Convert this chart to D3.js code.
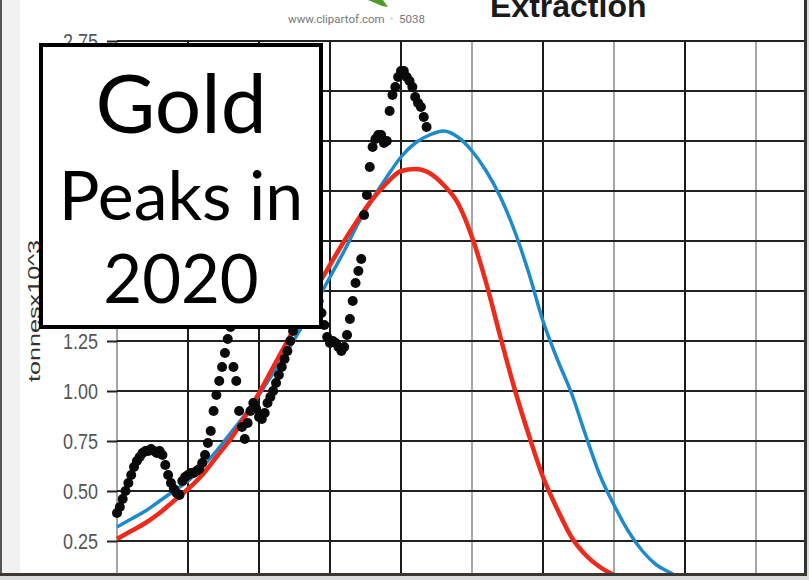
<!DOCTYPE html>
<html>
<head>
<meta charset="utf-8">
<script src="https://cdn.jsdelivr.net/npm/d3@7"></script>
<style>
  body { margin: 0; background: #fff; }
  svg { display: block; }
</style>
</head>
<body>
<div id="chart"></div>
<script>
// gridline positions
const yearTicks = [1900, 1925, 1950, 1975, 2000, 2025, 2050, 2075, 2100, 2125];
const lightYears = [1900, 2025, 2075, 2125];
const valueTicks = [0.25, 0.5, 0.75, 1.0, 1.25, 1.5, 1.75, 2.0, 2.25, 2.5, 2.75];

// fitted curves, every 5 years
const curveYears = [1900, 1905, 1910, 1915, 1920, 1925, 1930, 1935, 1940, 1945,
  1950, 1955, 1960, 1965, 1970, 1975, 1980, 1985, 1990, 1995,
  2000, 2005, 2010, 2015, 2020, 2025, 2030, 2035, 2040, 2045,
  2050, 2055, 2060, 2065, 2070, 2075, 2080, 2085, 2090, 2095, 2100];
const redFit = [0.26, 0.30, 0.34, 0.39, 0.45, 0.51, 0.58, 0.67, 0.76, 0.87,
  0.99, 1.12, 1.25, 1.38, 1.51, 1.63, 1.75, 1.86, 1.96, 2.04,
  2.10, 2.11, 2.09, 2.03, 1.94, 1.77, 1.54, 1.27, 1.01, 0.78,
  0.57, 0.41, 0.27, 0.18, 0.12, 0.08, 0.05, 0.03, 0.02, 0.01, 0.01];
const blueFit = [0.32, 0.36, 0.40, 0.45, 0.50, 0.55, 0.62, 0.70, 0.79, 0.88,
  0.98, 1.09, 1.20, 1.32, 1.44, 1.57, 1.70, 1.84, 1.96, 2.07,
  2.17, 2.24, 2.28, 2.30, 2.27, 2.20, 2.10, 1.97, 1.80, 1.59,
  1.35, 1.16, 0.99, 0.78, 0.58, 0.43, 0.30, 0.20, 0.13, 0.09, 0.05];

// yearly extraction (tonnes x 10^3)
const dotYears = [1900, 1901, 1902, 1903, 1904, 1905, 1906, 1907, 1908, 1909,
  1910, 1911, 1912, 1913, 1914, 1915, 1916, 1917, 1918, 1919,
  1920, 1921, 1922, 1923, 1924, 1925, 1926, 1927, 1928, 1929,
  1930, 1931, 1932, 1933, 1934, 1935, 1936, 1937, 1938, 1939,
  1940, 1941, 1942, 1943, 1944, 1945, 1946, 1947, 1948, 1949,
  1950, 1951, 1952, 1953, 1954, 1955, 1956, 1957, 1958, 1959,
  1960, 1961, 1962, 1963, 1964, 1965, 1966, 1967, 1968, 1969,
  1970, 1971, 1972, 1973, 1974, 1975, 1976, 1977, 1978, 1979,
  1980, 1981, 1982, 1983, 1984, 1985, 1986, 1987, 1988, 1989,
  1990, 1991, 1992, 1993, 1994, 1995, 1996, 1997, 1998, 1999,
  2000, 2001, 2002, 2003, 2004, 2005, 2006, 2007, 2008, 2009];
const extraction = [0.39, 0.42, 0.46, 0.50, 0.54, 0.58, 0.62, 0.65, 0.67, 0.69,
  0.70, 0.70, 0.71, 0.70, 0.69, 0.70, 0.68, 0.63, 0.58, 0.54,
  0.51, 0.49, 0.48, 0.55, 0.57, 0.58, 0.59, 0.59, 0.60, 0.61,
  0.64, 0.68, 0.74, 0.80, 0.90, 0.98, 1.05, 1.12, 1.19, 1.26,
  1.32, 1.12, 1.05, 0.90, 0.82, 0.76, 0.84, 0.90, 0.94, 0.91,
  0.87, 0.86, 0.89, 0.94, 0.97, 1.00, 1.04, 1.08, 1.12, 1.16,
  1.20, 1.25, 1.30, 1.35, 1.40, 1.43, 1.45, 1.44, 1.46, 1.47,
  1.49, 1.45, 1.39, 1.33, 1.27, 1.24, 1.25, 1.24, 1.22, 1.20,
  1.22, 1.28, 1.36, 1.45, 1.54, 1.60, 1.66, 1.88, 1.98, 2.12,
  2.22, 2.26, 2.28, 2.28, 2.24, 2.25, 2.40, 2.48, 2.52, 2.57,
  2.60, 2.60, 2.57, 2.55, 2.52, 2.47, 2.44, 2.42, 2.37, 2.32];

const width = 809, height = 580;
const plotLeft = 117, plotRight = 804, plotTop = 41, plotBottom = 573;

const svg = d3.select("#chart").append("svg")
  .attr("width", width)
  .attr("height", height);

const x = d3.scaleLinear().domain([1900, 2150]).range([plotLeft, plotLeft + 250 * 2.84]);
const y = d3.scaleLinear().domain([0, 2.75]).range([591, plotTop]);

svg.append("rect").attr("width", width).attr("height", height).attr("fill", "#fff");

svg.append("defs").append("clipPath").attr("id", "plot")
  .append("rect")
  .attr("x", plotLeft - 12).attr("y", 0)
  .attr("width", plotRight - plotLeft + 12).attr("height", plotBottom);

// header bits
svg.append("path")
  .attr("d", "M368,0 L383,0 L388,7 L382,6 Z")
  .attr("fill", "#4f9a2c");
svg.append("text")
  .attr("x", 288).attr("y", 23)
  .style("font-family", "Roboto, sans-serif")
  .style("font-size", "11.5px")
  .attr("fill", "#777")
  .attr("xml:space", "preserve")
  .text("www.clipartof.com  ·  5038");
svg.append("text")
  .attr("x", 490).attr("y", 17)
  .style("font-family", "'Liberation Sans', Arial, sans-serif")
  .style("font-weight", "bold")
  .style("font-size", "32px")
  .attr("fill", "#1a1a1a")
  .text("Extraction");

const plot = svg.append("g").attr("clip-path", "url(#plot)");

// vertical grid
plot.selectAll(".vgrid")
  .data(yearTicks)
  .enter()
  .append("line")
  .attr("x1", d => x(d)).attr("x2", d => x(d))
  .attr("y1", plotTop).attr("y2", plotBottom)
  .attr("stroke", d => lightYears.includes(d) ? "#a6a6a6" : "#1c1c1c")
  .attr("stroke-width", 2);

// horizontal grid
plot.selectAll(".hgrid")
  .data(valueTicks)
  .enter()
  .append("line")
  .attr("x1", plotLeft).attr("x2", plotRight)
  .attr("y1", d => y(d)).attr("y2", d => y(d))
  .attr("stroke", "#222")
  .attr("stroke-width", 2);

// y axis ticks + labels (source image is stretched vertically a bit)
const yAxis = svg.append("g")
  .attr("transform", "translate(" + plotLeft + ",0)")
  .call(d3.axisLeft(y).tickValues(valueTicks).tickSize(10).tickPadding(9)
    .tickFormat(d3.format(".2f")));
yAxis.select(".domain").remove();
yAxis.selectAll(".tick line").attr("stroke", "#222").attr("stroke-width", 2);
yAxis.selectAll(".tick text")
  .attr("transform", "scale(1,1.22)")
  .style("font-family", "'Liberation Sans', Arial, sans-serif")
  .style("font-size", "18px")
  .attr("fill", "#555");

svg.append("text")
  .attr("transform", "translate(40,311) rotate(-90)")
  .attr("text-anchor", "middle")
  .attr("textLength", 142)
  .attr("lengthAdjust", "spacingAndGlyphs")
  .style("font-family", "'Liberation Sans', Arial, sans-serif")
  .style("font-size", "17px")
  .attr("fill", "#333")
  .text("tonnesx10^3");

// fitted curves
const line = d3.line()
  .x(d => x(d[0]))
  .y(d => y(d[1]))
  .curve(d3.curveMonotoneX);

plot.append("path")
  .datum(curveYears.map((yr, i) => [yr, blueFit[i]]))
  .attr("d", line)
  .attr("fill", "none")
  .attr("stroke", "#1f8acb")
  .attr("stroke-width", 3.5);

plot.append("path")
  .datum(curveYears.map((yr, i) => [yr, redFit[i]]))
  .attr("d", line)
  .attr("fill", "none")
  .attr("stroke", "#ee2b1b")
  .attr("stroke-width", 4.5);

// data points
plot.selectAll(".dot")
  .data(dotYears.map((yr, i) => [yr, extraction[i]]))
  .enter()
  .append("circle")
  .attr("cx", d => x(d[0]))
  .attr("cy", d => y(d[1]))
  .attr("r", 5)
  .attr("fill", "#0a0a0a");

// overlay caption box
svg.append("rect")
  .attr("x", 41).attr("y", 45)
  .attr("width", 280).attr("height", 282)
  .attr("fill", "#fff")
  .attr("stroke", "#000")
  .attr("stroke-width", 4);

const caption = [["Gold", 82, 133], ["Peaks in", 68, 220], ["2020", 67, 303]];
svg.selectAll(".cap")
  .data(caption)
  .enter()
  .append("text")
  .attr("x", 181)
  .attr("y", d => d[2])
  .attr("text-anchor", "middle")
  .style("font-family", "Lato, sans-serif")
  .style("font-size", d => d[1] + "px")
  .attr("fill", "#000")
  .text(d => d[0]);

// frame of the screenshot
svg.append("rect").attr("x", 0).attr("y", 0).attr("width", 20).attr("height", plotBottom).attr("fill", "#f1f1f1");
svg.append("rect").attr("x", 0).attr("y", 0).attr("width", 2).attr("height", height).attr("fill", "#555");
svg.append("rect").attr("x", 0).attr("y", plotBottom).attr("width", width).attr("height", 3).attr("fill", "#3a3830");
svg.append("rect").attr("x", 0).attr("y", plotBottom + 3).attr("width", width).attr("height", height - plotBottom - 3).attr("fill", "#dcdcdc");
svg.append("rect").attr("x", plotRight).attr("y", 0).attr("width", 3).attr("height", plotBottom).attr("fill", "#333");
svg.append("rect").attr("x", plotRight + 3).attr("y", 0).attr("width", width - plotRight - 3).attr("height", height).attr("fill", "#dcdcdc");
</script>
</body>
</html>
